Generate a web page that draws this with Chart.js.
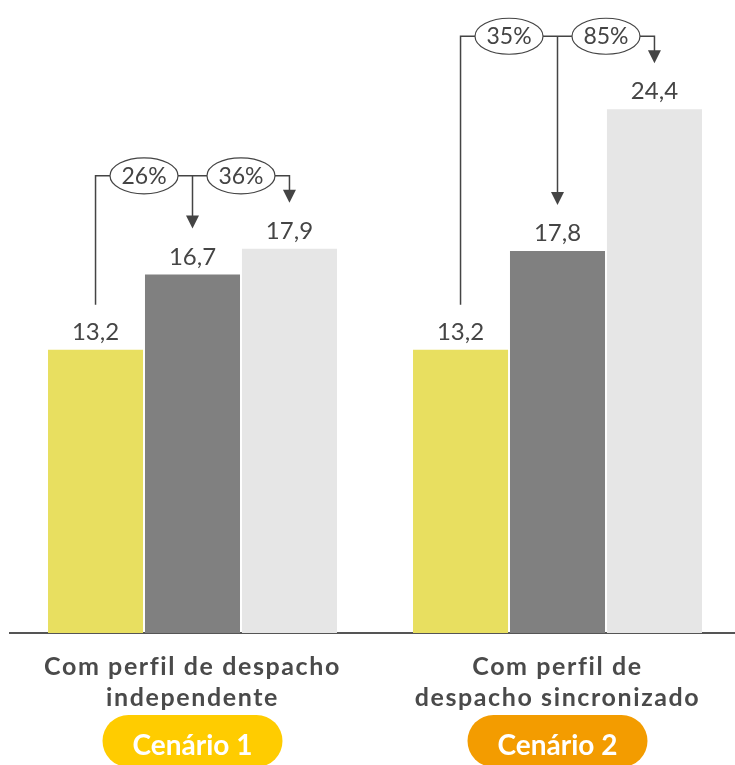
<!DOCTYPE html>
<html>
<head>
<meta charset="utf-8">
<script src="https://cdn.jsdelivr.net/npm/chart.js@4"></script>
<style>
html,body{margin:0;padding:0;background:#fff;overflow:hidden;}
#wrap{position:relative;width:740px;height:765px;}
</style>
</head>
<body>
<div id="wrap"><canvas id="c" width="740" height="765"></canvas></div>
<script>
// ---- data ----
const categories = [["Com perfil de despacho", "independente"], ["Com perfil de", "despacho sincronizado"]];
const scenarioLabels = ["Cenário 1", "Cenário 2"];
const seriesA = [13.2, 13.2];   // yellow
const seriesB = [16.7, 17.8];   // dark gray
const seriesC = [17.9, 24.4];   // light gray
const pctFirst = ["26%", "35%"];
const pctSecond = ["36%", "85%"];

const COLORS = {a: "#E8DF60", b: "#808080", c: "#E6E6E6", text: "#454545", axis: "#555555"};
const pillColors = ["#FFCC00", "#F39C00"];

function drawArrowHead(ctx, x, y) {
  ctx.beginPath();
  ctx.moveTo(x - 6.5, y - 13);
  ctx.lineTo(x + 6.5, y - 13);
  ctx.lineTo(x, y);
  ctx.closePath();
  ctx.fill();
}

const spacing = {
  id: "spacing",
  beforeDraw(chart) { chart.ctx.letterSpacing = "1.6px"; },
  beforeDatasetsDraw(chart) { chart.ctx.letterSpacing = "0px"; }
};

const overlay = {
  id: "overlay",
  afterDatasetsDraw(chart) {
    const ctx = chart.ctx;
    ctx.letterSpacing = "0px";
    const m0 = chart.getDatasetMeta(0).data;
    const m1 = chart.getDatasetMeta(1).data;
    const m2 = chart.getDatasetMeta(2).data;
    const sets = [m0, m1, m2];
    ctx.save();
    // value labels
    ctx.font = "24px Lato";
    ctx.fillStyle = COLORS.text;
    ctx.textAlign = "center";
    ctx.textBaseline = "alphabetic";
    sets.forEach((meta, di) => {
      meta.forEach((el, i) => {
        const v = chart.data.datasets[di].data[i];
        ctx.fillText(v.toFixed(1).replace(".", ","), el.x, el.y - 10);
      });
    });
    // brackets
    ctx.strokeStyle = "#444";
    ctx.fillStyle = "#444";
    ctx.lineWidth = 1.5;
    const rx = 34, ry = 18;
    for (let i = 0; i < m0.length; i++) {
      const a = m0[i], b = m1[i], c = m2[i];
      const hy = Math.min(a.y, b.y, c.y) - 73;
      const e1x = (a.x + b.x) / 2, e2x = (b.x + c.x) / 2;
      ctx.beginPath();
      ctx.moveTo(a.x, a.y - 45);
      ctx.lineTo(a.x, hy);
      ctx.lineTo(e1x - rx, hy);
      ctx.moveTo(e1x + rx, hy);
      ctx.lineTo(e2x - rx, hy);
      ctx.moveTo(b.x, hy);
      ctx.lineTo(b.x, b.y - 50);
      ctx.moveTo(e2x + rx, hy);
      ctx.lineTo(c.x, hy);
      ctx.lineTo(c.x, c.y - 50);
      ctx.stroke();
      drawArrowHead(ctx, b.x, b.y - 46);
      drawArrowHead(ctx, c.x, c.y - 46);
      [[e1x, pctFirst[i]], [e2x, pctSecond[i]]].forEach(([ex, t]) => {
        ctx.beginPath();
        ctx.ellipse(ex, hy, rx, ry, 0, 0, Math.PI * 2);
        ctx.fillStyle = "#fff";
        ctx.fill();
        ctx.lineWidth = 1.2;
        ctx.stroke();
        ctx.lineWidth = 1.5;
        ctx.fillStyle = "#444";
        ctx.font = "23px Lato";
        ctx.textBaseline = "alphabetic";
        ctx.fillText(t, ex, hy + 8);
      });
    }
    // scenario pills
    const xs = chart.scales.x;
    scenarioLabels.forEach((lab, i) => {
      const cx = xs.getPixelForValue(i);
      const w = 180, h = 52, top = 715;
      ctx.beginPath();
      ctx.roundRect(cx - w / 2, top, w, h, 26);
      ctx.fillStyle = pillColors[i];
      ctx.fill();
      ctx.fillStyle = "#fff";
      ctx.font = "bold 28px Lato";
      ctx.textBaseline = "alphabetic";
      ctx.fillText(lab, cx, 755);
    });
    ctx.restore();
  }
};

function build() {
  Chart.defaults.font.family = "Lato";
  new Chart(document.getElementById("c"), {
    type: "bar",
    data: {
      labels: categories,
      datasets: [
        {data: seriesA, backgroundColor: COLORS.a},
        {data: seriesB, backgroundColor: COLORS.b},
        {data: seriesC, backgroundColor: COLORS.c}
      ]
    },
    options: {
      responsive: false,
      animation: false,
      events: [],
      categoryPercentage: 0.797,
      barPercentage: 0.98,
      layout: {padding: {left: 10, right: 0, top: 32, bottom: 0}},
      plugins: {legend: {display: false}, tooltip: {enabled: false}},
      scales: {
        y: {display: false, min: 0, max: 28},
        x: {
          grid: {display: false},
          border: {display: true, color: COLORS.axis, width: 2},
          ticks: {
            color: "#4a4a4a",
            padding: 10,
            maxRotation: 0,
            autoSkip: false,
            font: {family: "Lato", size: 25, weight: "bold", lineHeight: 31 / 25}
          },
          afterFit(scale) { scale.height = 132; }
        }
      }
    },
    plugins: [spacing, overlay]
  });
}
if (document.fonts && document.fonts.load) {
  Promise.all([document.fonts.load("bold 22px Lato"), document.fonts.load("22px Lato")]).then(build, build);
} else build();
</script>
</body>
</html>
